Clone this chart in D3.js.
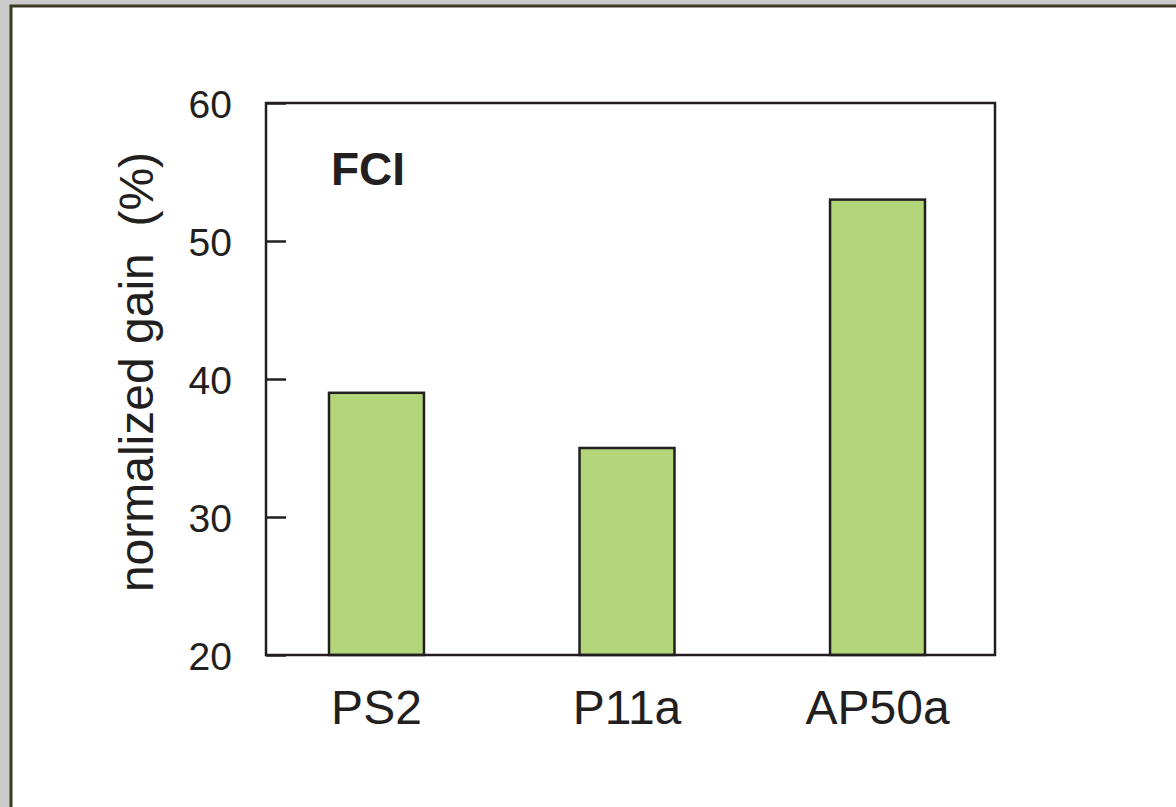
<!DOCTYPE html>
<html><head><meta charset="utf-8">
<script src="https://cdn.jsdelivr.net/npm/d3@7"></script>
<style>
html,body{margin:0;padding:0;background:#cbcbcb;}
svg{display:block;}
text{font-family:"Liberation Sans",Arial,Helvetica,sans-serif;fill:#231f20;}
</style></head>
<body>
<svg id="chart" width="1176" height="807"></svg>
<script>
const categories = ["PS2", "P11a", "AP50a"];
const values = [39, 35, 53];
const yTicks = [20, 30, 40, 50, 60];
const yLabel = "normalized gain  (%)";
const panelLabel = "FCI";

const svg = d3.select("#chart");
const W = 1176, H = 807;

// gray backdrop
svg.append("rect").attr("width", W).attr("height", H).attr("fill", "#cbcbcb");
// white panel
svg.append("rect").attr("x", 11).attr("y", 6).attr("width", W).attr("height", H)
  .attr("fill", "#ffffff").attr("stroke", "#3b3a20").attr("stroke-width", 3);

const m = {left: 266, right: 995, top: 103, bottom: 655};
const x = d3.scaleBand().domain(categories).range([m.left, 988])
  .paddingInner(0.621).paddingOuter(0.2515);
const y = d3.scaleLinear().domain([20, 60]).range([m.bottom, m.top]);

const ink = "#231f20";

// bars
svg.append("g").selectAll("rect").data(categories).join("rect")
  .attr("x", d => x(d))
  .attr("y", (d, i) => y(values[i]))
  .attr("width", x.bandwidth())
  .attr("height", (d, i) => y(20) - y(values[i]))
  .attr("fill", "#b3d67b")
  .attr("stroke", ink).attr("stroke-width", 2.5);

// frame
svg.append("rect").attr("x", m.left).attr("y", m.top)
  .attr("width", m.right - m.left).attr("height", m.bottom - m.top)
  .attr("fill", "none").attr("stroke", ink).attr("stroke-width", 2.5);

// y axis (ticks pointing inward)
const yAxis = d3.axisLeft(y).tickValues(yTicks).tickSize(-20).tickPadding(34).tickFormat(d3.format("d"));
const gy = svg.append("g").attr("transform", `translate(${m.left},0)`).call(yAxis);
gy.select(".domain").remove();
gy.selectAll(".tick line").attr("stroke", ink).attr("stroke-width", 2.5);
gy.selectAll(".tick text").style("font-size", "39px").attr("fill", ink).attr("dy", "0.36em");

// x axis labels
const xAxis = d3.axisBottom(x).tickSize(0).tickPadding(0);
const gx = svg.append("g").attr("transform", `translate(0,${m.bottom})`).call(xAxis);
gx.select(".domain").remove();
gx.selectAll(".tick text").style("font-size", "48px").attr("fill", ink)
  .attr("dy", 0).attr("y", 69);

// y axis title
svg.append("text")
  .attr("transform", `translate(153,372) rotate(-90)`)
  .attr("text-anchor", "middle")
  .style("font-size", "48px")
  .style("white-space", "pre")
  .text(yLabel);

// panel label
svg.append("text").attr("x", 331).attr("y", 185)
  .style("font-size", "46px").style("font-weight", "bold")
  .text(panelLabel);
</script>
</body></html>
